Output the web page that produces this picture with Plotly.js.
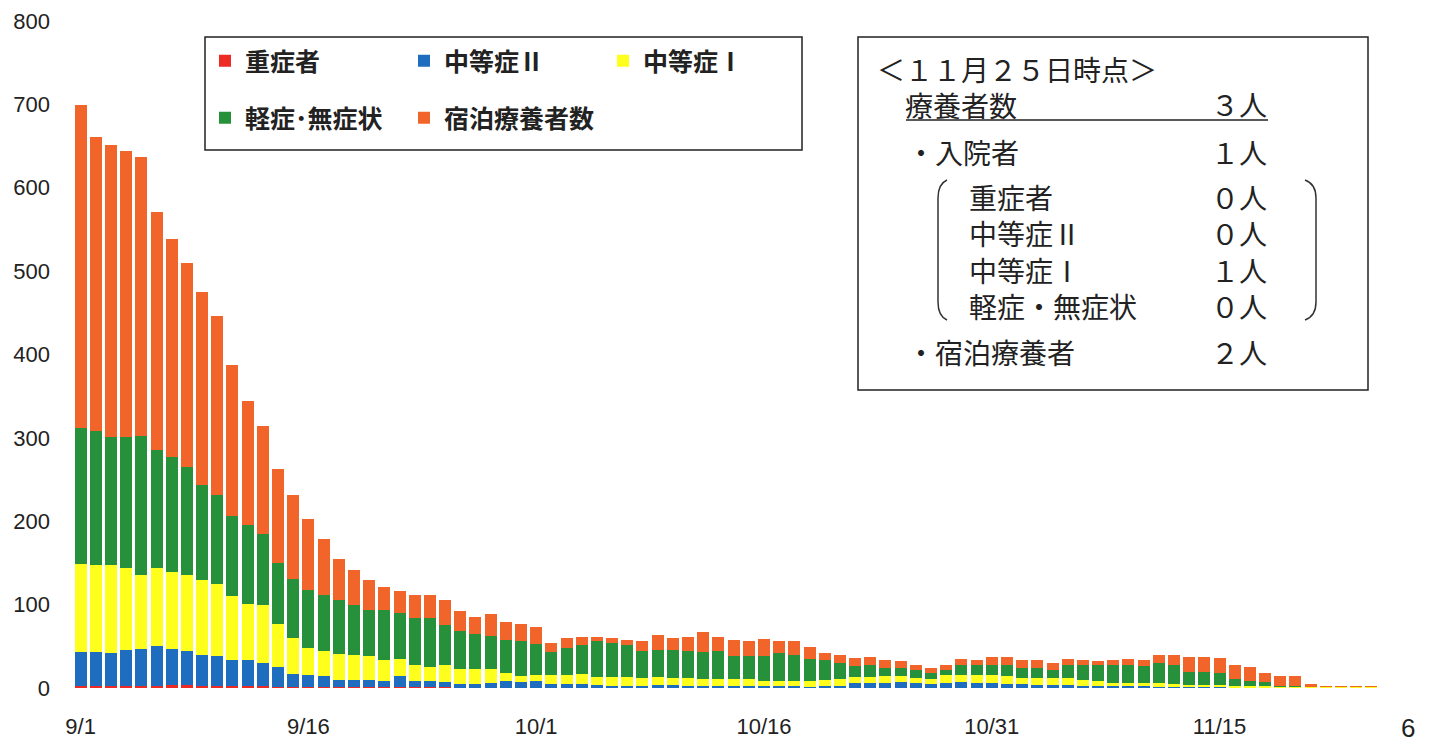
<!DOCTYPE html>
<html><head><meta charset="utf-8">
<script src="https://cdn.plot.ly/plotly-3.0.1.min.js"></script>
<style>html,body{margin:0;padding:0;background:#fff}#chart{width:1432px;height:744px}</style>
</head><body><div id="chart"></div>
<script>
const dates = [
 '9/1','9/2','9/3','9/4','9/5','9/6','9/7','9/8','9/9','9/10',
 '9/11','9/12','9/13','9/14','9/15','9/16','9/17','9/18','9/19','9/20',
 '9/21','9/22','9/23','9/24','9/25','9/26','9/27','9/28','9/29','9/30',
 '10/1','10/2','10/3','10/4','10/5','10/6','10/7','10/8','10/9','10/10',
 '10/11','10/12','10/13','10/14','10/15','10/16','10/17','10/18','10/19','10/20',
 '10/21','10/22','10/23','10/24','10/25','10/26','10/27','10/28','10/29','10/30',
 '10/31','11/1','11/2','11/3','11/4','11/5','11/6','11/7','11/8','11/9',
 '11/10','11/11','11/12','11/13','11/14','11/15','11/16','11/17','11/18','11/19',
 '11/20','11/21','11/22','11/23','11/24','11/25'];

const severe = [
 2,2,2,2,2,3,4,4,3,3, 2,2,2,1,1,1,1,1,1,1, 1,1,1,1,1,0,0,0,0,0,
 0,0,0,0,0,0,0,0,0,0, 0,0,0,0,0,0,0,0,0,0, 0,0,0,0,0,0,0,0,0,0,
 0,0,0,0,0,0,0,0,0,0, 0,0,0,0,0,0,0,0,0,0, 0,0,0,0,0,0];
const moderate2 = [
 41,41,40,43,45,47,43,40,36,35, 32,31,28,24,16,15,13,9,9,9, 8,13,8,7,6,5,5,6,8,7,
 8,5,5,5,4,3,3,3,4,4, 3,3,3,3,2,2,2,2,1,2, 3,6,6,6,7,6,5,6,7,6,
 6,5,5,4,4,4,3,2,2,2, 2,1,1,1,1,1,0,0,0,0, 0,0,0,0,0,0];
const moderate1 = [
 106,105,105,99,89,94,92,91,91,87, 76,68,69,52,43,32,30,31,30,28, 25,21,19,17,20,18,18,17,10,7,
 8,10,10,12,9,10,10,9,9,8, 9,8,8,8,9,6,6,6,8,8, 8,7,7,8,7,6,6,9,8,9,
 9,9,7,8,8,8,7,7,4,4, 4,5,4,3,3,3,3,2,2,1, 1,1,1,1,1,1];
const mild = [
 163,160,154,157,166,142,138,130,114,107, 96,94,86,73,71,69,67,65,59,55, 60,55,56,59,48,45,42,39,40,42,
 37,28,33,34,43,41,39,32,33,34, 32,32,33,27,27,30,34,31,26,24, 19,13,14,10,10,10,7,7,13,13,
 13,13,12,12,10,16,18,19,21,21, 20,24,22,15,15,14,8,7,5,2, 1,0,0,0,0,0];
const hotel = [
 387,353,350,343,335,285,261,245,231,214, 182,149,129,113,100,86,68,49,43,37, 27,26,27,27,31,24,20,27,21,21,
 20,11,12,10,5,6,6,12,18,14, 17,24,17,20,18,21,14,17,14,8, 9,10,10,10,8,6,6,6,7,6,
 9,10,10,9,8,7,5,4,7,8, 8,10,13,18,18,18,17,16,11,11, 12,4,2,2,2,2];

const tickLabels = ['9/1','9/16','10/1','10/16','10/31','11/15'];
const seriesNames = ['重症者','中等症Ⅱ','中等症Ⅰ','軽症･無症状','宿泊療養者数'];
const seriesColors = ['#ee2a24','#1f6dbf','#ffff1e','#26903b','#f2652a'];
const seriesLegend = ['legend','legend','legend','legend2','legend2'];

const summaryTitle = '＜１１月２５日時点＞';
const summaryTotal = ['療養者数', '３人'];
const summaryInpatient = ['・入院者', '１人'];
const summaryBreakdown = ['重症者','中等症Ⅱ','中等症Ⅰ','軽症・無症状'];
const summaryBreakdownValues = ['０人','０人','１人','０人'];
const summaryHotel = ['・宿泊療養者', '２人'];

// ---- layout geometry ----
const W = 1432, H = 744;
const M = {l: 73, r: 53, t: 21, b: 56};
const PW = W - M.l - M.r, PH = H - M.t - M.b;
const X = px => (px - M.l) / PW;
const Y = py => (H - M.b - py) / PH;

const series = [severe, moderate2, moderate1, mild, hotel];
const traces = series.map((vals, i) => ({
  type: 'bar', x: dates, y: vals, name: seriesNames[i],
  marker: {color: seriesColors[i], line: {width: 0}},
  legend: seriesLegend[i], hoverinfo: 'x+y+name'
}));

const cjk = 'Noto Sans CJK JP';
const legendBase = {
  orientation: 'h', xanchor: 'left', yanchor: 'middle',
  entrywidth: 154, entrywidthmode: 'pixels',
  font: {family: cjk, size: 25, color: '#222', weight: 'bold'},
  bgcolor: 'rgba(0,0,0,0)', borderwidth: 0, traceorder: 'normal'
};

const boxFont = {family: cjk, size: 28, color: '#222'};
function note(px, py, text, xanchor, align) {
  return {xref:'paper', yref:'paper', x: X(px), y: Y(py), xanchor: xanchor, yanchor:'middle',
    align: align || xanchor, text: text, showarrow:false, font: boxFont, borderpad: 0};
}
const annotations = [
  note(876, 87, summaryTitle + '<br>　' + summaryTotal[0], 'left'),
  note(1268, 104, summaryTotal[1], 'right'),
  note(906, 152, summaryInpatient[0], 'left'),
  note(1268, 152, summaryInpatient[1], 'right'),
  note(968, 251, summaryBreakdown.join('<br>'), 'left'),
  note(1268, 251, summaryBreakdownValues.join('<br>'), 'right'),
  note(906, 352, summaryHotel[0], 'left'),
  note(1268, 352, summaryHotel[1], 'right'),
  {xref:'paper', yref:'paper', x: X(1408), y: Y(744), xanchor:'center', yanchor:'bottom',
   text: '6', showarrow:false, borderpad: 0, font:{family:'Liberation Sans', size:26, color:'#222'}}
];

const P = (px, py) => X(px) + ',' + Y(py);
const shapes = [
  {type:'rect', xref:'paper', yref:'paper', x0:X(205), x1:X(802), y0:Y(150), y1:Y(37),
   line:{color:'#222', width:1.5}, fillcolor:'rgba(0,0,0,0)'},
  {type:'rect', xref:'paper', yref:'paper', x0:X(858), x1:X(1368), y0:Y(390), y1:Y(37),
   line:{color:'#222', width:1.5}, fillcolor:'rgba(0,0,0,0)'},
  {type:'line', xref:'paper', yref:'paper', x0:X(906), x1:X(1268), y0:Y(120), y1:Y(120),
   line:{color:'#222', width:1.5}},
  {type:'path', xref:'paper', yref:'paper',
   path:'M'+P(947,180)+' Q'+P(938,184)+' '+P(938,198)+' L'+P(938,302)+' Q'+P(938,316)+' '+P(947,320),
   line:{color:'#333', width:1.5}},
  {type:'path', xref:'paper', yref:'paper',
   path:'M'+P(1305,180)+' Q'+P(1316,184)+' '+P(1316,198)+' L'+P(1316,302)+' Q'+P(1316,316)+' '+P(1305,320),
   line:{color:'#333', width:1.5}}
];

const layout = {
  width: W, height: H, margin: M,
  paper_bgcolor: '#fff', plot_bgcolor: '#fff',
  barmode: 'stack', bargap: 0.21,
  showlegend: true,
  legend: Object.assign({}, legendBase, {x: X(205), y: Y(61)}),
  legend2: Object.assign({}, legendBase, {x: X(205), y: Y(118)}),
  xaxis: {type:'category', range:[-0.5, 85.5], tickvals: tickLabels, ticktext: tickLabels,
    showgrid:false, zeroline:false, showline:false, ticks:'', ticklabelstandoff: 23,
    tickfont:{family:'Liberation Sans', size:22, color:'#222'}},
  yaxis: {range:[0, 800], dtick:100, showgrid:false, zeroline:false, showline:false, ticks:'',
    ticklabelstandoff: 22, tickfont:{family:'Liberation Sans', size:22, color:'#222'}},
  shapes: shapes, annotations: annotations
};

Plotly.newPlot('chart', traces, layout, {displayModeBar:false, staticPlot:true});
</script></body></html>
